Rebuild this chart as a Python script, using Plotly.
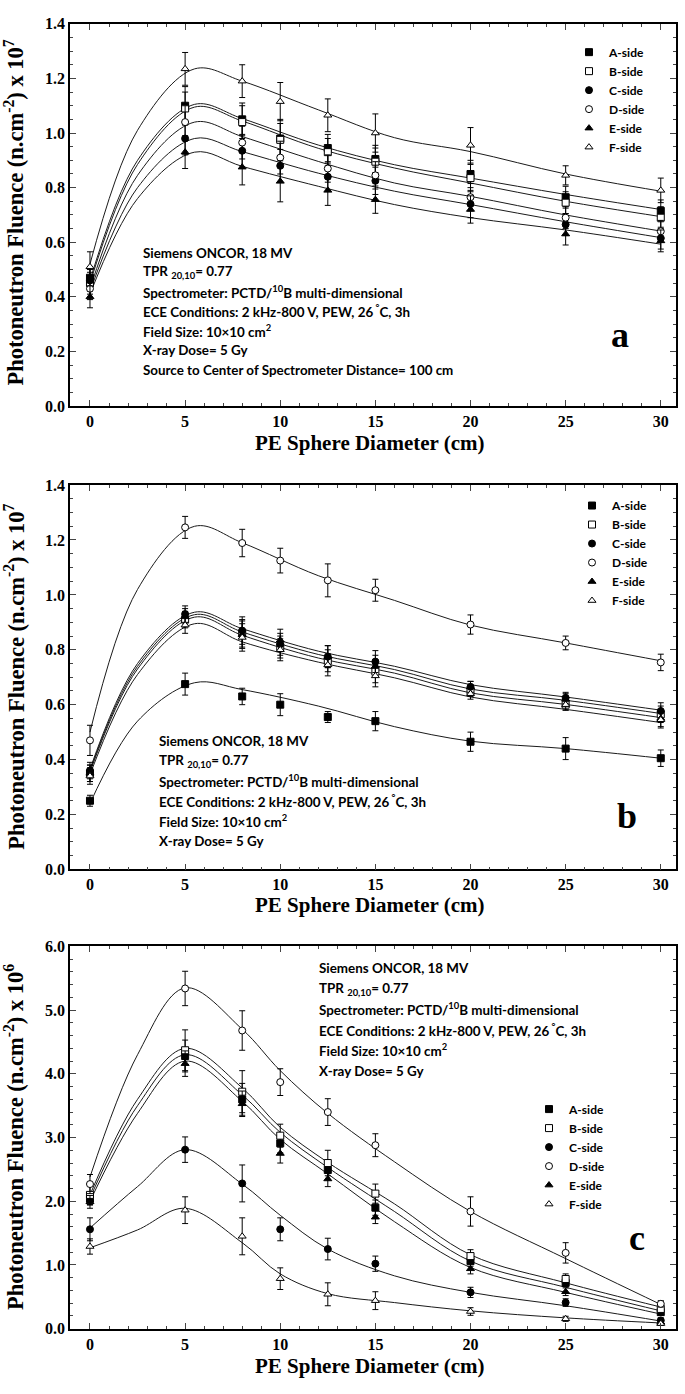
import plotly.graph_objects as go

# ---------------- data ----------------
X_PTS = [0, 5, 8, 10, 12.5, 15, 20, 25, 30]
FIT_X_AB = [0, 2.5, 5.5, 8, 12, 16, 20, 25, 30]
FIT_X_C = [0, 2.5, 5, 8, 10, 12.5, 16, 20, 25, 30]
SIDES = ["A-side", "B-side", "C-side", "D-side", "E-side", "F-side"]
X_TICKS = [0, 5, 10, 15, 20, 25, 30]

# panel a  (x 10^7)
a_A = [0.47, 1.10, 1.05, 0.98, 0.945, 0.905, 0.85, 0.765, 0.715]
a_B = [0.45, 1.09, 1.04, 0.975, 0.93, 0.895, 0.835, 0.745, 0.69]
a_C = [0.46, 0.98, 0.935, 0.88, 0.84, 0.825, 0.74, 0.665, 0.615]
a_D = [0.43, 1.04, 0.965, 0.91, 0.87, 0.845, 0.765, 0.69, 0.64]
a_E = [0.40, 0.93, 0.875, 0.823, 0.79, 0.756, 0.72, 0.63, 0.605]
a_F = [0.51, 1.235, 1.19, 1.115, 1.065, 1.0, 0.955, 0.845, 0.79]
a_A_err = [0.04, 0.07, 0.06, 0.07, 0.05, 0.05, 0.05, 0.04, 0.04]
a_B_err = [0.04, 0.06, 0.06, 0.06, 0.05, 0.05, 0.05, 0.04, 0.04]
a_C_err = [0.04, 0.06, 0.06, 0.06, 0.05, 0.05, 0.05, 0.04, 0.04]
a_D_err = [0.04, 0.06, 0.06, 0.06, 0.05, 0.05, 0.05, 0.04, 0.04]
a_E_err = [0.04, 0.06, 0.065, 0.075, 0.055, 0.05, 0.05, 0.04, 0.04]
a_F_err = [0.055, 0.06, 0.06, 0.07, 0.06, 0.07, 0.065, 0.035, 0.045]
a_A_fit = [0.46, 0.90, 1.105, 1.053, 0.956, 0.884, 0.835, 0.775, 0.72]
a_B_fit = [0.45, 0.885, 1.095, 1.044, 0.944, 0.872, 0.817, 0.75, 0.694]
a_C_fit = [0.42, 0.80, 0.98, 0.932, 0.853, 0.787, 0.738, 0.675, 0.617]
a_D_fit = [0.43, 0.845, 1.04, 0.987, 0.896, 0.817, 0.768, 0.70, 0.641]
a_E_fit = [0.41, 0.76, 0.93, 0.878, 0.805, 0.738, 0.69, 0.645, 0.593]
a_F_fit = [0.52, 1.01, 1.235, 1.19, 1.085, 0.983, 0.932, 0.85, 0.787]

# panel b  (x 10^7)
b_A = [0.25, 0.675, 0.63, 0.60, 0.555, 0.54, 0.465, 0.44, 0.405]
b_B = [0.35, 0.91, 0.86, 0.81, 0.76, 0.72, 0.65, 0.60, 0.565]
b_C = [0.36, 0.93, 0.87, 0.82, 0.775, 0.757, 0.665, 0.625, 0.577]
b_D = [0.47, 1.246, 1.189, 1.125, 1.053, 1.017, 0.892, 0.825, 0.754]
b_E = [0.35, 0.92, 0.855, 0.835, 0.775, 0.74, 0.665, 0.62, 0.55]
b_F = [0.34, 0.89, 0.845, 0.80, 0.745, 0.705, 0.64, 0.60, 0.545]
b_A_err = [0.02, 0.04, 0.03, 0.04, 0.02, 0.035, 0.035, 0.04, 0.03]
b_B_err = [0.03, 0.03, 0.05, 0.04, 0.04, 0.04, 0.02, 0.02, 0.03]
b_C_err = [0.03, 0.03, 0.05, 0.04, 0.04, 0.04, 0.02, 0.02, 0.03]
b_D_err = [0.055, 0.04, 0.05, 0.045, 0.06, 0.04, 0.035, 0.025, 0.03]
b_E_err = [0.03, 0.03, 0.05, 0.04, 0.04, 0.04, 0.02, 0.02, 0.03]
b_F_err = [0.03, 0.03, 0.05, 0.04, 0.04, 0.04, 0.02, 0.02, 0.03]
b_A_fit = [0.24, 0.54, 0.68, 0.655, 0.595, 0.52, 0.467, 0.44, 0.405]
b_B_fit = [0.36, 0.74, 0.928, 0.865, 0.783, 0.728, 0.657, 0.616, 0.568]
b_C_fit = [0.365, 0.75, 0.937, 0.877, 0.795, 0.74, 0.673, 0.628, 0.58]
b_D_fit = [0.50, 1.02, 1.25, 1.19, 1.07, 0.98, 0.89, 0.825, 0.76]
b_E_fit = [0.355, 0.73, 0.919, 0.853, 0.77, 0.715, 0.643, 0.601, 0.553]
b_F_fit = [0.345, 0.71, 0.895, 0.829, 0.755, 0.698, 0.628, 0.583, 0.535]

# panel c  (x 10^6)
c_A = [2.04, 4.28, 3.6, 2.91, 2.49, 1.9, 1.06, 0.72, 0.26]
c_B = [2.1, 4.37, 3.72, 3.03, 2.6, 2.12, 1.14, 0.78, 0.31]
c_C = [1.56, 2.81, 2.28, 1.56, 1.25, 1.02, 0.57, 0.41, 0.13]
c_D = [2.27, 5.34, 4.68, 3.87, 3.40, 2.88, 1.84, 1.19, 0.39]
c_E = [1.99, 4.16, 3.53, 2.75, 2.35, 1.75, 0.94, 0.58, 0.10]
c_F = [1.29, 1.86, 1.45, 0.785, 0.54, 0.44, 0.27, 0.155, 0.08]
c_A_err = [0.1, 0.25, 0.25, 0.15, 0.15, 0.12, 0.08, 0.06, 0.05]
c_B_err = [0.15, 0.32, 0.33, 0.18, 0.2, 0.15, 0.1, 0.08, 0.05]
c_C_err = [0.18, 0.2, 0.29, 0.18, 0.17, 0.12, 0.08, 0.06, 0.04]
c_D_err = [0.15, 0.27, 0.31, 0.21, 0.21, 0.18, 0.23, 0.16, 0.05]
c_E_err = [0.1, 0.2, 0.2, 0.15, 0.12, 0.1, 0.08, 0.06, 0.04]
c_F_err = [0.12, 0.21, 0.29, 0.17, 0.18, 0.14, 0.06, 0.04, 0.03]
c_A_fit = [2.05, 3.5, 4.3, 3.67, 3.08, 2.53, 1.84, 1.06, 0.65, 0.28]
c_B_fit = [2.1, 3.6, 4.4, 3.78, 3.16, 2.61, 1.96, 1.16, 0.72, 0.34]
c_C_fit = [1.58, 2.23, 2.81, 2.27, 1.78, 1.25, 0.83, 0.57, 0.36, 0.12]
c_D_fit = [2.38, 4.3, 5.35, 4.7, 4.05, 3.38, 2.62, 1.84, 1.1, 0.38]
c_E_fit = [2.0, 3.38, 4.2, 3.57, 2.97, 2.43, 1.68, 0.96, 0.57, 0.23]
c_F_fit = [1.27, 1.55, 1.89, 1.35, 0.86, 0.55, 0.41, 0.28, 0.17, 0.09]

# ---------------- styling ----------------
W, H = 685, 1394
SYM = ["square", "square", "circle", "circle", "triangle-up", "triangle-up"]
FILL = ["black", "white", "black", "white", "black", "white"]
SERIF = "Liberation Serif"
SANS = "Lato"

def px(x):
    return x / W

def py(y):
    return 1 - y / H

panels = [
    dict(xa="x", ya="y", leg="legend",
         vals=[a_A, a_B, a_C, a_D, a_E, a_F],
         errs=[a_A_err, a_B_err, a_C_err, a_D_err, a_E_err, a_F_err],
         fits=[a_A_fit, a_B_fit, a_C_fit, a_D_fit, a_E_fit, a_F_fit],
         fitx=FIT_X_AB),
    dict(xa="x2", ya="y2", leg="legend2",
         vals=[b_A, b_B, b_C, b_D, b_E, b_F],
         errs=[b_A_err, b_B_err, b_C_err, b_D_err, b_E_err, b_F_err],
         fits=[b_A_fit, b_B_fit, b_C_fit, b_D_fit, b_E_fit, b_F_fit],
         fitx=FIT_X_AB),
    dict(xa="x3", ya="y3", leg="legend3",
         vals=[c_A, c_B, c_C, c_D, c_E, c_F],
         errs=[c_A_err, c_B_err, c_C_err, c_D_err, c_E_err, c_F_err],
         fits=[c_A_fit, c_B_fit, c_C_fit, c_D_fit, c_E_fit, c_F_fit],
         fitx=FIT_X_C),
]

fig = go.Figure()
for p in panels:
    for i in range(6):
        fig.add_trace(go.Scatter(
            x=p["fitx"], y=p["fits"][i], mode="lines",
            line=dict(color="#1a1a1a", width=1, shape="spline", smoothing=1.0),
            xaxis=p["xa"], yaxis=p["ya"], showlegend=False, hoverinfo="skip"))
    for i in range(6):
        fig.add_trace(go.Scatter(
            x=X_PTS, y=p["vals"][i], mode="markers", name=SIDES[i],
            marker=dict(symbol=SYM[i], size=7, color=FILL[i],
                        line=dict(color="black", width=1)),
            error_y=dict(type="data", array=p["errs"][i], visible=True,
                         color="black", thickness=1, width=3),
            xaxis=p["xa"], yaxis=p["ya"], legend=p["leg"]))

# plot areas in pixels
X0, X1 = 70, 676
boxes = [(16, 403), (483, 872), (950, 1337)]
yranges = [[0, 1.4], [0, 1.4], [0, 6.0]]
ydt = [0.2, 0.2, 1.0]
yminor = [0.05, 0.05, 0.2]

tickfont = dict(family=SERIF, size=16, color="black", weight="bold")
layout = dict(width=W, height=H, margin=dict(l=0, r=0, t=0, b=0),
              paper_bgcolor="white", plot_bgcolor="white", showlegend=True)

for k, (top, bot) in enumerate(boxes):
    sx = "" if k == 0 else str(k + 1)
    layout["xaxis" + sx] = dict(
        domain=[px(X0), px(X1)], anchor="y" + sx, range=[-1.05, 30.8],
        tickmode="array", tickvals=X_TICKS, ticks="inside", ticklen=6, tickwidth=1.2,
        minor=dict(dtick=1, tick0=0, ticks="inside", ticklen=3, tickwidth=1),
        showline=True, linecolor="black", linewidth=1.5, mirror="allticks",
        showgrid=False, zeroline=False, tickfont=tickfont, fixedrange=True)
    layout["yaxis" + sx] = dict(
        domain=[py(bot), py(top)], anchor="x" + sx, range=yranges[k],
        dtick=ydt[k], tick0=0, tickformat=".1f", ticks="inside", ticklen=6, tickwidth=1.2,
        minor=dict(dtick=yminor[k], tick0=0, ticks="inside", ticklen=3, tickwidth=1),
        showline=True, linecolor="black", linewidth=1.5, mirror="allticks",
        showgrid=False, zeroline=False, tickfont=tickfont, fixedrange=True)

legfont = dict(family=SANS, size=12, color="black", weight="bold")
leg_pos = [(569, 30), (572, 489), (529, 1100)]
for k, (lx, ly) in enumerate(leg_pos):
    name = "legend" if k == 0 else "legend" + str(k + 1)
    layout[name] = dict(x=px(lx), y=py(ly), xanchor="left", yanchor="top",
                        bgcolor="rgba(0,0,0,0)", borderwidth=0, font=legfont,
                        itemclick=False, itemdoubleclick=False)

fig.update_layout(**layout)

# ---------------- annotations ----------------
ann = []
xtitlefont = dict(family=SERIF, size=21, color="black", weight="bold")
ytitlefont = dict(family=SERIF, size=22.5, color="black", weight="bold")
xt_y = [440, 908, 1375]
yt_c = [207, 677, 1143]
yt_txt = ["Photoneutron Fluence (n.cm<sup>-2</sup>) x 10<sup>7</sup>",
          "Photoneutron Fluence (n.cm<sup>-2</sup>) x 10<sup>7</sup>",
          "Photoneutron Fluence (n.cm<sup>-2</sup>) x 10<sup>6</sup>"]
for k in range(3):
    ann.append(dict(text="PE Sphere Diameter (cm)", x=px(370), y=py(xt_y[k]),
                    xref="paper", yref="paper", showarrow=False,
                    xanchor="center", yanchor="middle", font=xtitlefont))
    ann.append(dict(text=yt_txt[k], x=px(14), y=py(yt_c[k]), textangle=-90,
                    xref="paper", yref="paper", showarrow=False,
                    xanchor="center", yanchor="middle", font=ytitlefont))

info = ["Siemens ONCOR, 18 MV",
        "TPR <sub>20,10</sub>= 0.77",
        "Spectrometer: PCTD/<sup>10</sup>B multi-dimensional",
        "ECE Conditions: 2 kHz-800 V, PEW, 26<sup> °</sup>C, 3h",
        "Field Size: 10×10 cm<sup>2</sup>",
        "X-ray Dose= 5 Gy"]
info_a = info + ["Source to Center of Spectrometer Distance= 100 cm"]
infofont = dict(family=SANS, size=13.4, color="black", weight="bold")
blocks = [(141, 248, 19.7, info_a), (157, 742, 20.3, info), (317, 972, 20.8, info)]
for (bx, by, dy, lines) in blocks:
    for j, t in enumerate(lines):
        ann.append(dict(text=t, x=px(bx), y=py(by + j * dy), xref="paper", yref="paper",
                        showarrow=False, xanchor="left", yanchor="middle", font=infofont))

letters = [("a", 620, 331), ("b", 627, 818), ("c", 637, 1245)]
for (t, lx, ly) in letters:
    ann.append(dict(text=t, x=px(lx), y=py(ly), xref="paper", yref="paper",
                    showarrow=False, xanchor="center", yanchor="middle",
                    font=dict(family=SERIF, size=36, color="black", weight="bold")))

fig.update_layout(annotations=ann)
fig.write_html("out.html", config={"displayModeBar": False},
               post_script="document.body.style.margin='0px';")
